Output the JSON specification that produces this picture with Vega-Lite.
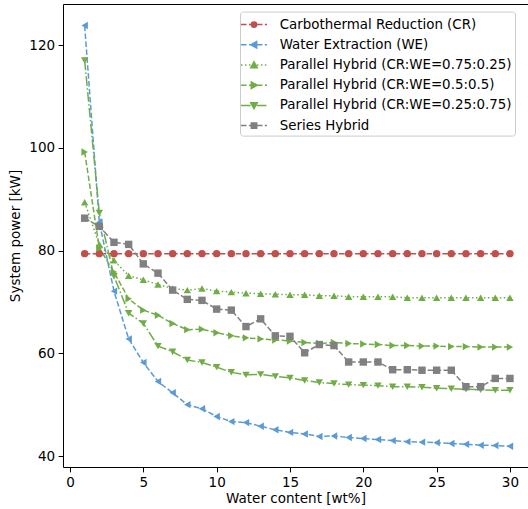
{
  "$schema": "https://vega.github.io/schema/vega-lite/v6.json",
  "width": 465,
  "height": 463,
  "autosize": {"type": "none"},
  "padding": {"left": 63, "top": 4, "right": 0, "bottom": 42},
  "config": {
    "view": {"stroke": null},
    "font": "DejaVu Sans",
    "axis": {"grid": false, "labelFont": "DejaVu Sans", "titleFont": "DejaVu Sans", "labelFontSize": 13.5, "titleFontSize": 13.5, "titleFontWeight": "normal", "labelColor": "#000", "titleColor": "#000", "domainColor": "#000", "tickColor": "#000", "tickSize": 4.9, "labelPadding": 3.5, "domainWidth": 1, "tickWidth": 1},
    "legend": {"labelFontSize": 13.4, "labelFont": "DejaVu Sans", "labelColor": "#000", "labelLimit": 400, "symbolSize": 324, "symbolStrokeWidth": 1.5, "symbolOpacity": 1, "padding": 3, "rowPadding": 3.2, "symbolOffset": 1, "labelOffset": 15.7}
  },
  "datasets": {
    "pts": [
      {"series":"Carbothermal Reduction (CR)","water":1,"power":79.4},{"series":"Carbothermal Reduction (CR)","water":2,"power":79.4},{"series":"Carbothermal Reduction (CR)","water":3,"power":79.4},{"series":"Carbothermal Reduction (CR)","water":4,"power":79.4},{"series":"Carbothermal Reduction (CR)","water":5,"power":79.4},{"series":"Carbothermal Reduction (CR)","water":6,"power":79.4},{"series":"Carbothermal Reduction (CR)","water":7,"power":79.4},{"series":"Carbothermal Reduction (CR)","water":8,"power":79.4},{"series":"Carbothermal Reduction (CR)","water":9,"power":79.4},{"series":"Carbothermal Reduction (CR)","water":10,"power":79.4},{"series":"Carbothermal Reduction (CR)","water":11,"power":79.4},{"series":"Carbothermal Reduction (CR)","water":12,"power":79.4},{"series":"Carbothermal Reduction (CR)","water":13,"power":79.4},{"series":"Carbothermal Reduction (CR)","water":14,"power":79.4},{"series":"Carbothermal Reduction (CR)","water":15,"power":79.4},{"series":"Carbothermal Reduction (CR)","water":16,"power":79.4},{"series":"Carbothermal Reduction (CR)","water":17,"power":79.4},{"series":"Carbothermal Reduction (CR)","water":18,"power":79.4},{"series":"Carbothermal Reduction (CR)","water":19,"power":79.4},{"series":"Carbothermal Reduction (CR)","water":20,"power":79.4},{"series":"Carbothermal Reduction (CR)","water":21,"power":79.4},{"series":"Carbothermal Reduction (CR)","water":22,"power":79.4},{"series":"Carbothermal Reduction (CR)","water":23,"power":79.4},{"series":"Carbothermal Reduction (CR)","water":24,"power":79.4},{"series":"Carbothermal Reduction (CR)","water":25,"power":79.4},{"series":"Carbothermal Reduction (CR)","water":26,"power":79.4},{"series":"Carbothermal Reduction (CR)","water":27,"power":79.4},{"series":"Carbothermal Reduction (CR)","water":28,"power":79.4},{"series":"Carbothermal Reduction (CR)","water":29,"power":79.4},{"series":"Carbothermal Reduction (CR)","water":30,"power":79.4},
      {"series":"Water Extraction (WE)","water":1,"power":123.8},{"series":"Water Extraction (WE)","water":2,"power":85.5},{"series":"Water Extraction (WE)","water":3,"power":72.1},{"series":"Water Extraction (WE)","water":4,"power":62.8},{"series":"Water Extraction (WE)","water":5,"power":58.2},{"series":"Water Extraction (WE)","water":6,"power":54.5},{"series":"Water Extraction (WE)","water":7,"power":52.3},{"series":"Water Extraction (WE)","water":8,"power":50.0},{"series":"Water Extraction (WE)","water":9,"power":49.2},{"series":"Water Extraction (WE)","water":10,"power":47.7},{"series":"Water Extraction (WE)","water":11,"power":46.7},{"series":"Water Extraction (WE)","water":12,"power":46.5},{"series":"Water Extraction (WE)","water":13,"power":45.8},{"series":"Water Extraction (WE)","water":14,"power":45.1},{"series":"Water Extraction (WE)","water":15,"power":44.6},{"series":"Water Extraction (WE)","water":16,"power":44.3},{"series":"Water Extraction (WE)","water":17,"power":43.8},{"series":"Water Extraction (WE)","water":18,"power":43.9},{"series":"Water Extraction (WE)","water":19,"power":43.6},{"series":"Water Extraction (WE)","water":20,"power":43.4},{"series":"Water Extraction (WE)","water":21,"power":43.2},{"series":"Water Extraction (WE)","water":22,"power":43.0},{"series":"Water Extraction (WE)","water":23,"power":42.8},{"series":"Water Extraction (WE)","water":24,"power":42.7},{"series":"Water Extraction (WE)","water":25,"power":42.6},{"series":"Water Extraction (WE)","water":26,"power":42.45},{"series":"Water Extraction (WE)","water":27,"power":42.3},{"series":"Water Extraction (WE)","water":28,"power":42.1},{"series":"Water Extraction (WE)","water":29,"power":42.05},{"series":"Water Extraction (WE)","water":30,"power":41.9},
      {"series":"Parallel Hybrid (CR:WE=0.75:0.25)","water":1,"power":89.4},{"series":"Parallel Hybrid (CR:WE=0.75:0.25)","water":2,"power":81.2},{"series":"Parallel Hybrid (CR:WE=0.75:0.25)","water":3,"power":78.1},{"series":"Parallel Hybrid (CR:WE=0.75:0.25)","water":4,"power":75.1},{"series":"Parallel Hybrid (CR:WE=0.75:0.25)","water":5,"power":74.3},{"series":"Parallel Hybrid (CR:WE=0.75:0.25)","water":6,"power":73.4},{"series":"Parallel Hybrid (CR:WE=0.75:0.25)","water":7,"power":72.6},{"series":"Parallel Hybrid (CR:WE=0.75:0.25)","water":8,"power":72.3},{"series":"Parallel Hybrid (CR:WE=0.75:0.25)","water":9,"power":72.6},{"series":"Parallel Hybrid (CR:WE=0.75:0.25)","water":10,"power":72.1},{"series":"Parallel Hybrid (CR:WE=0.75:0.25)","water":11,"power":71.9},{"series":"Parallel Hybrid (CR:WE=0.75:0.25)","water":12,"power":71.7},{"series":"Parallel Hybrid (CR:WE=0.75:0.25)","water":13,"power":71.6},{"series":"Parallel Hybrid (CR:WE=0.75:0.25)","water":14,"power":71.5},{"series":"Parallel Hybrid (CR:WE=0.75:0.25)","water":15,"power":71.4},{"series":"Parallel Hybrid (CR:WE=0.75:0.25)","water":16,"power":71.4},{"series":"Parallel Hybrid (CR:WE=0.75:0.25)","water":17,"power":71.2},{"series":"Parallel Hybrid (CR:WE=0.75:0.25)","water":18,"power":71.2},{"series":"Parallel Hybrid (CR:WE=0.75:0.25)","water":19,"power":71.0},{"series":"Parallel Hybrid (CR:WE=0.75:0.25)","water":20,"power":71.0},{"series":"Parallel Hybrid (CR:WE=0.75:0.25)","water":21,"power":71.0},{"series":"Parallel Hybrid (CR:WE=0.75:0.25)","water":22,"power":71.0},{"series":"Parallel Hybrid (CR:WE=0.75:0.25)","water":23,"power":70.8},{"series":"Parallel Hybrid (CR:WE=0.75:0.25)","water":24,"power":70.8},{"series":"Parallel Hybrid (CR:WE=0.75:0.25)","water":25,"power":70.8},{"series":"Parallel Hybrid (CR:WE=0.75:0.25)","water":26,"power":70.8},{"series":"Parallel Hybrid (CR:WE=0.75:0.25)","water":27,"power":70.8},{"series":"Parallel Hybrid (CR:WE=0.75:0.25)","water":28,"power":70.8},{"series":"Parallel Hybrid (CR:WE=0.75:0.25)","water":29,"power":70.8},{"series":"Parallel Hybrid (CR:WE=0.75:0.25)","water":30,"power":70.8},
      {"series":"Parallel Hybrid (CR:WE=0.5:0.5)","water":1,"power":99.2},{"series":"Parallel Hybrid (CR:WE=0.5:0.5)","water":2,"power":80.5},{"series":"Parallel Hybrid (CR:WE=0.5:0.5)","water":3,"power":75.8},{"series":"Parallel Hybrid (CR:WE=0.5:0.5)","water":4,"power":70.6},{"series":"Parallel Hybrid (CR:WE=0.5:0.5)","water":5,"power":68.4},{"series":"Parallel Hybrid (CR:WE=0.5:0.5)","water":6,"power":67.4},{"series":"Parallel Hybrid (CR:WE=0.5:0.5)","water":7,"power":65.8},{"series":"Parallel Hybrid (CR:WE=0.5:0.5)","water":8,"power":64.6},{"series":"Parallel Hybrid (CR:WE=0.5:0.5)","water":9,"power":64.7},{"series":"Parallel Hybrid (CR:WE=0.5:0.5)","water":10,"power":64.0},{"series":"Parallel Hybrid (CR:WE=0.5:0.5)","water":11,"power":63.4},{"series":"Parallel Hybrid (CR:WE=0.5:0.5)","water":12,"power":63.0},{"series":"Parallel Hybrid (CR:WE=0.5:0.5)","water":13,"power":62.8},{"series":"Parallel Hybrid (CR:WE=0.5:0.5)","water":14,"power":62.6},{"series":"Parallel Hybrid (CR:WE=0.5:0.5)","water":15,"power":62.4},{"series":"Parallel Hybrid (CR:WE=0.5:0.5)","water":16,"power":62.1},{"series":"Parallel Hybrid (CR:WE=0.5:0.5)","water":17,"power":61.9},{"series":"Parallel Hybrid (CR:WE=0.5:0.5)","water":18,"power":62.1},{"series":"Parallel Hybrid (CR:WE=0.5:0.5)","water":19,"power":61.9},{"series":"Parallel Hybrid (CR:WE=0.5:0.5)","water":20,"power":61.8},{"series":"Parallel Hybrid (CR:WE=0.5:0.5)","water":21,"power":61.7},{"series":"Parallel Hybrid (CR:WE=0.5:0.5)","water":22,"power":61.5},{"series":"Parallel Hybrid (CR:WE=0.5:0.5)","water":23,"power":61.5},{"series":"Parallel Hybrid (CR:WE=0.5:0.5)","water":24,"power":61.4},{"series":"Parallel Hybrid (CR:WE=0.5:0.5)","water":25,"power":61.4},{"series":"Parallel Hybrid (CR:WE=0.5:0.5)","water":26,"power":61.3},{"series":"Parallel Hybrid (CR:WE=0.5:0.5)","water":27,"power":61.3},{"series":"Parallel Hybrid (CR:WE=0.5:0.5)","water":28,"power":61.2},{"series":"Parallel Hybrid (CR:WE=0.5:0.5)","water":29,"power":61.2},{"series":"Parallel Hybrid (CR:WE=0.5:0.5)","water":30,"power":61.2},
      {"series":"Parallel Hybrid (CR:WE=0.25:0.75)","water":1,"power":117.0},{"series":"Parallel Hybrid (CR:WE=0.25:0.75)","water":2,"power":87.3},{"series":"Parallel Hybrid (CR:WE=0.25:0.75)","water":3,"power":75.0},{"series":"Parallel Hybrid (CR:WE=0.25:0.75)","water":4,"power":67.8},{"series":"Parallel Hybrid (CR:WE=0.25:0.75)","water":5,"power":65.8},{"series":"Parallel Hybrid (CR:WE=0.25:0.75)","water":6,"power":61.4},{"series":"Parallel Hybrid (CR:WE=0.25:0.75)","water":7,"power":60.3},{"series":"Parallel Hybrid (CR:WE=0.25:0.75)","water":8,"power":58.7},{"series":"Parallel Hybrid (CR:WE=0.25:0.75)","water":9,"power":58.2},{"series":"Parallel Hybrid (CR:WE=0.25:0.75)","water":10,"power":57.3},{"series":"Parallel Hybrid (CR:WE=0.25:0.75)","water":11,"power":56.3},{"series":"Parallel Hybrid (CR:WE=0.25:0.75)","water":12,"power":55.8},{"series":"Parallel Hybrid (CR:WE=0.25:0.75)","water":13,"power":55.9},{"series":"Parallel Hybrid (CR:WE=0.25:0.75)","water":14,"power":55.5},{"series":"Parallel Hybrid (CR:WE=0.25:0.75)","water":15,"power":55.2},{"series":"Parallel Hybrid (CR:WE=0.25:0.75)","water":16,"power":54.7},{"series":"Parallel Hybrid (CR:WE=0.25:0.75)","water":17,"power":54.3},{"series":"Parallel Hybrid (CR:WE=0.25:0.75)","water":18,"power":54.1},{"series":"Parallel Hybrid (CR:WE=0.25:0.75)","water":19,"power":53.9},{"series":"Parallel Hybrid (CR:WE=0.25:0.75)","water":20,"power":53.8},{"series":"Parallel Hybrid (CR:WE=0.25:0.75)","water":21,"power":53.7},{"series":"Parallel Hybrid (CR:WE=0.25:0.75)","water":22,"power":53.5},{"series":"Parallel Hybrid (CR:WE=0.25:0.75)","water":23,"power":53.5},{"series":"Parallel Hybrid (CR:WE=0.25:0.75)","water":24,"power":53.4},{"series":"Parallel Hybrid (CR:WE=0.25:0.75)","water":25,"power":53.2},{"series":"Parallel Hybrid (CR:WE=0.25:0.75)","water":26,"power":53.1},{"series":"Parallel Hybrid (CR:WE=0.25:0.75)","water":27,"power":53.0},{"series":"Parallel Hybrid (CR:WE=0.25:0.75)","water":28,"power":52.9},{"series":"Parallel Hybrid (CR:WE=0.25:0.75)","water":29,"power":52.8},{"series":"Parallel Hybrid (CR:WE=0.25:0.75)","water":30,"power":52.8},
      {"series":"Series Hybrid","water":1,"power":86.3},{"series":"Series Hybrid","water":2,"power":84.7},{"series":"Series Hybrid","water":3,"power":81.6},{"series":"Series Hybrid","water":4,"power":81.2},{"series":"Series Hybrid","water":5,"power":77.4},{"series":"Series Hybrid","water":6,"power":75.6},{"series":"Series Hybrid","water":7,"power":72.3},{"series":"Series Hybrid","water":8,"power":70.5},{"series":"Series Hybrid","water":9,"power":70.3},{"series":"Series Hybrid","water":10,"power":68.6},{"series":"Series Hybrid","water":11,"power":68.4},{"series":"Series Hybrid","water":12,"power":65.2},{"series":"Series Hybrid","water":13,"power":66.7},{"series":"Series Hybrid","water":14,"power":63.4},{"series":"Series Hybrid","water":15,"power":63.3},{"series":"Series Hybrid","water":16,"power":60.1},{"series":"Series Hybrid","water":17,"power":61.7},{"series":"Series Hybrid","water":18,"power":61.5},{"series":"Series Hybrid","water":19,"power":58.3},{"series":"Series Hybrid","water":20,"power":58.3},{"series":"Series Hybrid","water":21,"power":58.3},{"series":"Series Hybrid","water":22,"power":56.8},{"series":"Series Hybrid","water":23,"power":56.8},{"series":"Series Hybrid","water":24,"power":56.7},{"series":"Series Hybrid","water":25,"power":56.7},{"series":"Series Hybrid","water":26,"power":56.7},{"series":"Series Hybrid","water":27,"power":53.5},{"series":"Series Hybrid","water":28,"power":53.5},{"series":"Series Hybrid","water":29,"power":55.1},{"series":"Series Hybrid","water":30,"power":55.1}
    ]
  },
  "data": {"name": "pts"},
  "layer": [
    {
      "mark": {"type": "line", "strokeWidth": 1.5},
      "encoding": {
        "x": {"field": "water", "type": "quantitative", "scale": {"domain": [-0.477, 31.23], "nice": false, "zero": false}, "axis": {"orient": "bottom", "values": [0, 5, 10, 15, 20, 25, 30], "title": "Water content [wt%]", "titlePadding": 3}},
        "y": {"field": "power", "type": "quantitative", "scale": {"domain": [37.86, 128.0], "nice": false, "zero": false}, "axis": {"values": [40, 60, 80, 100, 120], "title": "System power [kW]", "titlePadding": 6}},
        "color": {
          "field": "series", "type": "nominal",
          "scale": {"domain": ["Carbothermal Reduction (CR)", "Water Extraction (WE)", "Parallel Hybrid (CR:WE=0.75:0.25)", "Parallel Hybrid (CR:WE=0.5:0.5)", "Parallel Hybrid (CR:WE=0.25:0.75)", "Series Hybrid"], "range": ["#c0504d", "#5b9bd5", "#70ad47", "#70ad47", "#70ad47", "#808080"]},
          "legend": {
            "orient": "none", "legendX": 177, "legendY": 7.6, "title": null, "padding": 3,
            "symbolSize": 324, "symbolOffset": 1, "labelOffset": 15.7, "rowPadding": 3.2,
            "labelFontSize": 13.4, "labelFont": "DejaVu Sans", "labelColor": "#000", "labelLimit": 400,
            "fillColor": "rgba(255,255,255,0.8)", "strokeColor": "#cccccc", "cornerRadius": 3,
            "symbolStrokeWidth": 1.5, "symbolOpacity": 1,
            "encode": {"symbols": {"update": {
              "shape": {"signal": "datum.value === 'Carbothermal Reduction (CR)' ? 'M-1.444,0H-0.828M-0.561,0H0.056M0.322,0H0.939M1.206,0H1.444M0.3,0A0.3,0.3,0,1,1,-0.3,0A0.3,0.3,0,1,1,0.3,0Z' : datum.value === 'Water Extraction (WE)' ? 'M-1.444,0H-0.828M-0.561,0H0.056M0.322,0H0.939M1.206,0H1.444M-0.36,0L0.3,-0.36L0.3,0.36Z' : datum.value === 'Parallel Hybrid (CR:WE=0.75:0.25)' ? 'M-1.444,0H-1.278M-1.003,0H-0.836M-0.561,0H-0.394M-0.119,0H0.047M0.322,0H0.489M0.764,0H0.931M1.206,0H1.372M0,-0.36L0.36,0.3L-0.36,0.3Z' : datum.value === 'Parallel Hybrid (CR:WE=0.5:0.5)' ? 'M-1.444,0H-0.828M-0.561,0H0.056M0.322,0H0.939M1.206,0H1.444M0.36,0L-0.3,-0.36L-0.3,0.36Z' : datum.value === 'Parallel Hybrid (CR:WE=0.25:0.75)' ? 'M-1.444,0H-0.378M-0.111,0H0.056M0.322,0H1.389M0,0.36L0.36,-0.3L-0.36,-0.3Z' : 'M-1.444,0H-0.828M-0.561,0H0.056M0.322,0H0.939M1.206,0H1.444M-0.3,-0.3H0.3V0.3H-0.3Z'"},
              "fill": {"signal": "scale('color', datum.value)"},
              "stroke": {"signal": "scale('color', datum.value)"},
              "strokeDash": {"value": []},
              "strokeWidth": {"value": 1.5},
              "opacity": {"value": 1}
            }}}
          }
        },
        "strokeDash": {
          "field": "series", "type": "nominal",
          "scale": {"domain": ["Carbothermal Reduction (CR)", "Parallel Hybrid (CR:WE=0.25:0.75)", "Parallel Hybrid (CR:WE=0.5:0.5)", "Parallel Hybrid (CR:WE=0.75:0.25)", "Series Hybrid", "Water Extraction (WE)"], "range": [[5.55, 2.4], [9.6, 2.4, 1.5, 2.4], [5.55, 2.4], [1.5, 2.475], [5.55, 2.4], [5.55, 2.4]]},
          "legend": null
        }
      }
    },
    {
      "mark": {"type": "point", "filled": true, "opacity": 1, "size": 55},
      "encoding": {
        "x": {"field": "water", "type": "quantitative", "axis": {"orient": "top", "labels": false, "ticks": false, "title": null}},
        "y": {"field": "power", "type": "quantitative"},
        "color": {"field": "series", "type": "nominal"},
        "shape": {
          "field": "series", "type": "nominal",
          "scale": {"domain": ["Series Hybrid", "Parallel Hybrid (CR:WE=0.25:0.75)", "Parallel Hybrid (CR:WE=0.5:0.5)", "Parallel Hybrid (CR:WE=0.75:0.25)", "Water Extraction (WE)", "Carbothermal Reduction (CR)"], "range": ["square", "triangle-down", "triangle-right", "triangle-up", "triangle-left", "circle"]},
          "legend": null
        }
      }
    }
  ]
}
